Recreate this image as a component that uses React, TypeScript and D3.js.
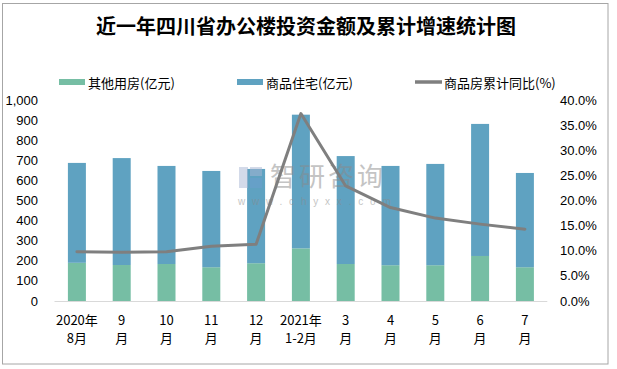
import React from "react";
import * as d3 from "d3";

// month labels (two lines each)
const monthTop = ["2020年", "9", "10", "11", "12", "2021年", "3", "4", "5", "6", "7"];
const monthBottom = ["8月", "月", "月", "月", "月", "1-2月", "月", "月", "月", "月", "月"];

// 其他用房 (亿元)
const otherValues = [190, 179, 184, 168, 188, 262, 184, 178, 178, 224, 168];
// 商品住宅 (亿元)
const residentialValues = [497, 532, 488, 479, 469, 665, 537, 494, 504, 657, 469];
// 商品房累计同比 (%)
const growthValues = [9.8, 9.7, 9.8, 10.9, 11.3, 37.3, 22.9, 18.6, 16.5, 15.3, 14.3];

const leftTicks = [0, 100, 200, 300, 400, 500, 600, 700, 800, 900, 1000];
const rightTicks = [0, 5, 10, 15, 20, 25, 30, 35, 40];

const width = 617;
const height = 369;
const margin = { top: 100, right: 70, bottom: 68, left: 54.5 };

const GREEN = "#76bea4";
const BLUE = "#5fa2c1";
const LINE = "#7f7f7f";
const CJK = "'Noto Sans CJK SC', sans-serif";
const NUM = "'Liberation Sans', Arial, sans-serif";

function Chart() {
  const idx = monthTop.map((_, i) => i);
  const x = d3
    .scaleBand<number>()
    .domain(idx)
    .range([margin.left, margin.left + 44.8 * 11]);
  const yLeft = d3
    .scaleLinear()
    .domain([0, 1000])
    .range([301, 100]);
  const yRight = d3
    .scaleLinear()
    .domain([0, 40])
    .range([301, 100]);

  const barW = 18;
  const cx = (i: number) => (x(i) as number) + x.bandwidth() / 2;

  const line = d3
    .line<number>()
    .x((_, i) => cx(i))
    .y((d) => yRight(d));

  const xEnd = margin.left + 44.8 * 11;

  return (
    <svg
      width={width}
      height={height}
      style={{ position: "absolute", left: 0, top: 0, background: "#fff" }}
    >
      <rect x={2.5} y={3.5} width={605.5} height={360.5} fill="#fff" stroke="#a6a6a6" strokeWidth={1} />

      <text
        x={306}
        y={34}
        textAnchor="middle"
        fontFamily={CJK}
        fontWeight={700}
        fontSize={20}
        fill="#000"
      >
        近一年四川省办公楼投资金额及累计增速统计图
      </text>

      {/* legend */}
      <g fontFamily={CJK} fontSize={13} fill="#000">
        <rect x={59} y={79} width={26} height={6} fill={GREEN} />
        <text x={88} y={87.5}>其他用房(亿元)</text>
        <rect x={237} y={79} width={26} height={6} fill={BLUE} />
        <text x={266} y={87.5}>商品住宅(亿元)</text>
        <line x1={415} x2={442} y1={82} y2={82} stroke={LINE} strokeWidth={3.5} />
        <text x={444} y={87.5}>商品房累计同比(%)</text>
      </g>

      {/* left axis labels */}
      <g fontFamily={NUM} fontSize={13} fill="#000" textAnchor="end">
        {leftTicks.map((t) => (
          <text key={t} x={38} y={yLeft(t) + 4.5}>
            {d3.format(",")(t)}
          </text>
        ))}
      </g>

      {/* right axis labels */}
      <g fontFamily={NUM} fontSize={13} fill="#000" textAnchor="start">
        {rightTicks.map((t) => (
          <text key={t} x={560} y={yRight(t) + 4.5}>
            {t.toFixed(1)}%
          </text>
        ))}
      </g>

      {/* bars */}
      {idx.map((i) => (
        <g key={i}>
          <rect
            x={cx(i) - barW / 2}
            width={barW}
            y={yLeft(otherValues[i])}
            height={yLeft(0) - yLeft(otherValues[i])}
            fill={GREEN}
          />
          <rect
            x={cx(i) - barW / 2}
            width={barW}
            y={yLeft(otherValues[i] + residentialValues[i])}
            height={yLeft(otherValues[i]) - yLeft(otherValues[i] + residentialValues[i])}
            fill={BLUE}
          />
        </g>
      ))}

      <line x1={margin.left} x2={xEnd} y1={301.5} y2={301.5} stroke="#d9d9d9" strokeWidth={1} />

      {/* watermark */}
      <g opacity={0.5}>
        <rect x={239} y={167} width={9} height={21} fill="#a9b6d4" />
        <rect x={250} y={167} width={12} height={9} fill="#a9b6d4" />
        <rect x={250} y={178} width={12} height={10} fill="#6e9fd0" />
        <text x={270} y={186} fontFamily={CJK} fontSize={26} fill="#8a8a8a" letterSpacing={3}>
          智研咨询
        </text>
        <text x={238} y={205} fontFamily={NUM} fontSize={10} fill="#8a8a8a" letterSpacing={6.8}>
          www.chyxx.com
        </text>
      </g>

      {/* growth line */}
      <path
        d={line(growthValues) || ""}
        fill="none"
        stroke={LINE}
        strokeWidth={3}
        strokeLinejoin="round"
        strokeLinecap="round"
      />

      {/* x labels */}
      <g fontFamily={CJK} fontSize={13} fill="#000" textAnchor="middle">
        {idx.map((i) => (
          <g key={i}>
            <text x={cx(i)} y={325}>
              {monthTop[i]}
            </text>
            <text x={cx(i)} y={343}>
              {monthBottom[i]}
            </text>
          </g>
        ))}
      </g>
    </svg>
  );
}

export default function App() {
  return <Chart />;
}
